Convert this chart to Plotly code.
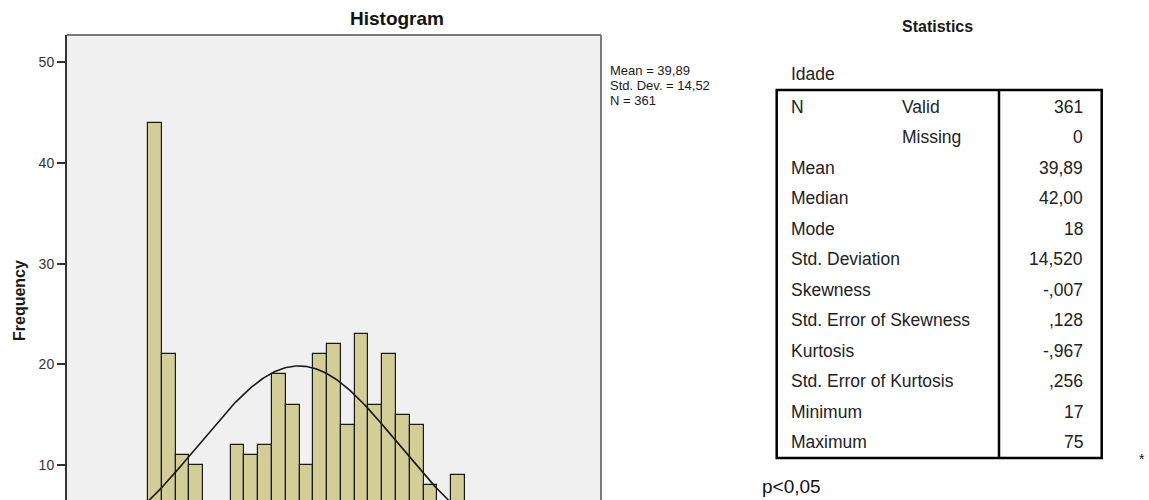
import numpy as np
import plotly.graph_objects as go

# ---- data -------------------------------------------------------------
bin_start = [16, 18, 20, 22, 24, 26, 28, 30, 32, 34, 36, 38, 40, 42, 44,
             46, 48, 50, 52, 54, 56, 58, 60, 62, 64, 66, 68, 70, 72, 74]
counts = [2, 44, 21, 11, 10, 5, 4, 12, 11, 12, 19, 16, 10, 21, 22,
          14, 23, 16, 21, 15, 14, 8, 5, 9, 5, 4, 3, 2, 1, 1]
bin_width = 2

n_valid = 361
mean_age = 39.89
sd_age = 14.52

stat_labels = ["N", "", "Mean", "Median", "Mode", "Std. Deviation", "Skewness",
               "Std. Error of Skewness", "Kurtosis", "Std. Error of Kurtosis",
               "Minimum", "Maximum"]
stat_sublabels = ["Valid", "Missing", "", "", "", "", "", "", "", "", "", ""]
stat_values = ["361", "0", "39,89", "42,00", "18", "14,520", "-,007", ",128",
               "-,967", ",256", "17", "75"]

y_ticks = [10, 20, 30, 40, 50]

# ---- layout geometry (pixels) -----------------------------------------
W, H = 1149, 500
PL, PR, PT, PB = 67, 601, 35, 500
FONT = "Liberation Sans, Arial, sans-serif"


def px(x):
    return (x - PL) / (PR - PL)


def py(y):
    return (PB - y) / (PB - PT)


x_range = [6.24, 83.75]
y_range = [6.52, 52.71]

fig = go.Figure()

centers = [b + bin_width / 2 for b in bin_start]
fig.add_trace(go.Bar(
    x=centers, y=counts, width=bin_width,
    marker=dict(color="#D3CE97", line=dict(color="#1a1a1a", width=1.2)),
    hoverinfo="skip", showlegend=False,
))

# normal curve for the stated mean / std. deviation
xs = np.linspace(x_range[0], x_range[1], 400)
ys = n_valid * bin_width / (sd_age * np.sqrt(2 * np.pi)) * np.exp(-(xs - mean_age) ** 2 / (2 * sd_age ** 2))
fig.add_trace(go.Scatter(x=xs, y=ys, mode="lines",
                         line=dict(color="#1a1a1a", width=1.6),
                         hoverinfo="skip", showlegend=False))

shapes = [
    # frame (top and right edges)
    dict(type="line", xref="paper", yref="paper", x0=0, x1=1, y0=1, y1=1,
         line=dict(color="#7a7a7a", width=2)),
    dict(type="line", xref="paper", yref="paper", x0=1, x1=1, y0=0, y1=1,
         line=dict(color="#7a7a7a", width=2)),
    # statistics table
    dict(type="rect", xref="paper", yref="paper",
         x0=px(776.7), x1=px(1101.7), y0=py(458), y1=py(90),
         line=dict(color="#000000", width=2.5)),
    dict(type="line", xref="paper", yref="paper",
         x0=px(999), x1=px(999), y0=py(458), y1=py(90),
         line=dict(color="#000000", width=2.5)),
]

annotations = []


def label(text, x, y, size, anchor="left", bold=False, color="#1a1a1a", angle=0):
    annotations.append(dict(
        text=f"<b>{text}</b>" if bold else text,
        x=px(x), y=py(y), xref="paper", yref="paper",
        xanchor=anchor, yanchor="middle", showarrow=False, borderpad=0,
        textangle=angle, font=dict(family=FONT, size=size, color=color),
    ))


# axis title
label("Frequency", 20, 300, 16, anchor="center", bold=True, angle=-90)

# summary next to the histogram
label("Mean = 39,89", 609, 71, 13)
label("Std. Dev. = 14,52", 609, 85.5, 13)
label("N = 361", 609, 100, 13)

# statistics table text
label("Statistics", 937.5, 26, 16, anchor="center", bold=True)
label("Idade", 790, 74, 17.5, color="#222222")
row0, row_step = 106.7, 30.48
for i, (lab, sub, val) in enumerate(zip(stat_labels, stat_sublabels, stat_values)):
    yy = row0 + i * row_step
    if lab:
        label(lab, 790, yy, 17.5, color="#222222")
    if sub:
        label(sub, 901, yy, 17.5, color="#222222")
    label(val, 1084, yy, 17.5, anchor="right", color="#222222")

label("p<0,05", 761, 486, 19, color="#111111")
label("*", 1142, 459, 14, anchor="center", color="#111111")

fig.update_layout(
    width=W, height=H,
    margin=dict(l=PL, r=W - PR, t=PT, b=H - PB, pad=0),
    paper_bgcolor="#ffffff", plot_bgcolor="#F0F0F0",
    bargap=0,
    title=dict(text="<b>Histogram</b>", xref="container", yref="container",
               x=397 / W, y=1 - 18 / H, xanchor="center", yanchor="middle",
               font=dict(family=FONT, size=19, color="#111111")),
    xaxis=dict(range=x_range, showgrid=False, zeroline=False, showline=False,
               showticklabels=False, ticks=""),
    yaxis=dict(range=y_range, tickvals=y_ticks, showgrid=False, zeroline=False,
               showline=True, linecolor="#333333", linewidth=2,
               ticks="outside", ticklen=8, tickwidth=1.6, tickcolor="#333333",
               tickfont=dict(family=FONT, size=14, color="#333333")),
    shapes=shapes,
    annotations=annotations,
)

fig.write_html("out.html")
